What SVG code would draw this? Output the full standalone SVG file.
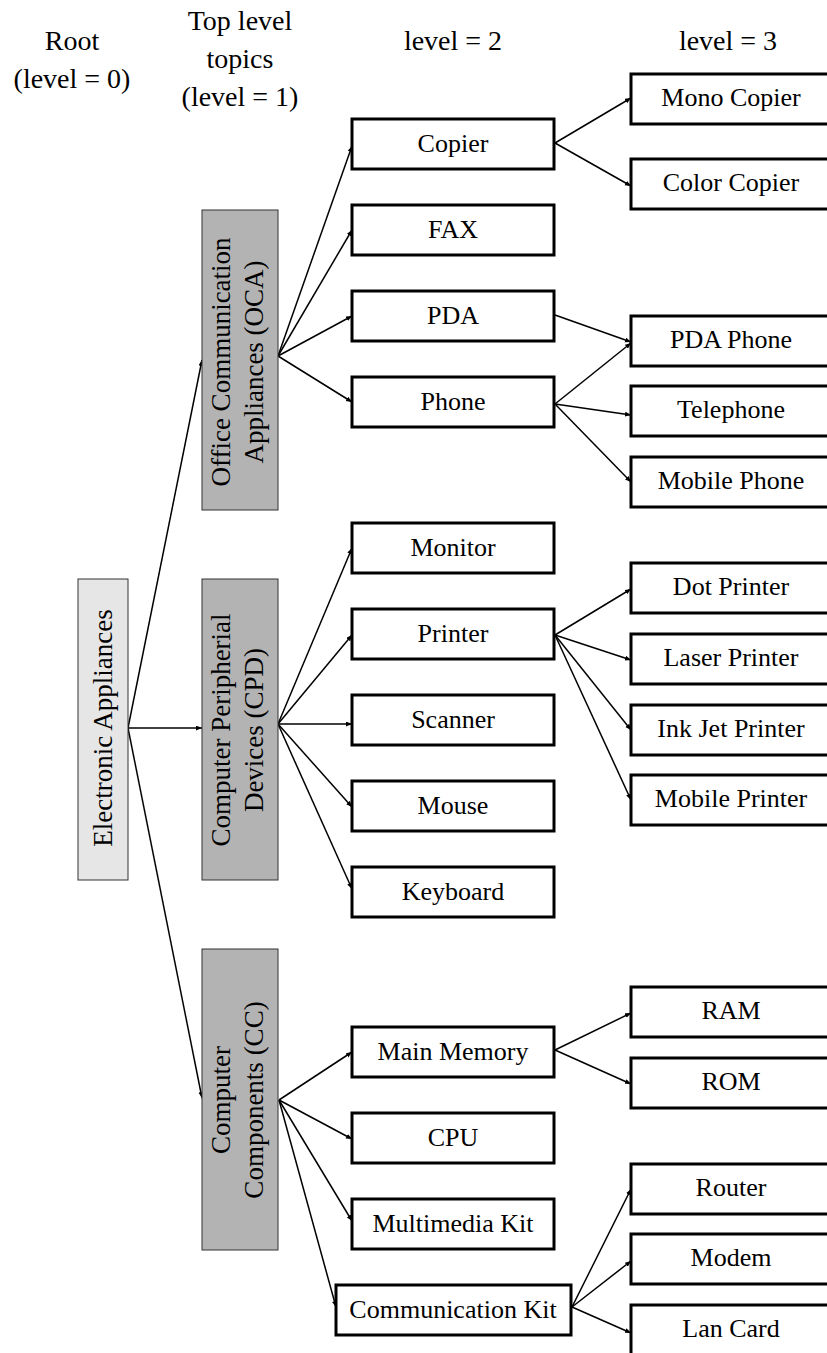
<svg xmlns="http://www.w3.org/2000/svg" width="827" height="1353" viewBox="0 0 827 1353">
<style>
text{font-family:"Liberation Serif","Times New Roman",serif;font-size:26px;fill:#000;text-anchor:middle}
.hdr{font-size:28px}
.box{fill:#fff;stroke:#000;stroke-width:3}
.top{fill:#b3b3b3;stroke:#333;stroke-width:1}
.root{fill:#e6e6e6;stroke:#333;stroke-width:1}
.vt{font-size:27px}
#connectors path{fill:none;stroke:#000;stroke-width:1.5;marker-end:url(#ah)}
</style>
<defs>
<marker id="ah" markerUnits="userSpaceOnUse" markerWidth="7" markerHeight="6" refX="6" refY="2.5" orient="auto">
<path d="M0,0 L6,2.5 L0,5 z" fill="#000"/>
</marker>
</defs>
<rect width="827" height="1353" fill="#fff"/>
<g id="headers">
<text class="hdr" x="72" y="50">Root</text>
<text class="hdr" x="72" y="88">(level = 0)</text>
<text class="hdr" x="240" y="30">Top level</text>
<text class="hdr" x="240" y="68">topics</text>
<text class="hdr" x="240" y="106">(level = 1)</text>
<text class="hdr" x="453" y="50">level = 2</text>
<text class="hdr" x="728" y="50">level = 3</text>
</g>
<g id="connectors">
<path d="M128,728 L202,360"/>
<path d="M128,728 L202,728"/>
<path d="M128,728 L202,1098"/>
<path d="M278,356 L352,146"/>
<path d="M278,356 L352,230"/>
<path d="M278,356 L352,316"/>
<path d="M278,356 L352,402"/>
<path d="M278,724 L352,548"/>
<path d="M278,724 L352,635"/>
<path d="M278,724 L352,724"/>
<path d="M278,724 L352,807"/>
<path d="M278,724 L352,889"/>
<path d="M279,1100 L352,1052"/>
<path d="M279,1100 L352,1139"/>
<path d="M279,1100 L352,1221"/>
<path d="M279,1100 L336,1307"/>
<path d="M555,143 L631,98"/>
<path d="M555,143 L631,186"/>
<path d="M555,315 L631,342"/>
<path d="M555,404 L631,343"/>
<path d="M555,404 L631,415"/>
<path d="M555,404 L631,482"/>
<path d="M555,635 L631,589"/>
<path d="M555,635 L631,660"/>
<path d="M555,635 L631,730"/>
<path d="M555,635 L631,800"/>
<path d="M555,1050 L631,1013"/>
<path d="M555,1050 L631,1084"/>
<path d="M572,1307 L631,1189"/>
<path d="M572,1307 L631,1261"/>
<path d="M572,1307 L631,1333"/>
</g>
<g id="root"><rect class="root" x="78" y="579" width="50" height="301"/><text class="vt" transform="translate(103,728) rotate(-90)" x="0" y="9">Electronic Appliances</text></g>
<g id="oca"><rect class="top" x="202" y="210" width="76" height="300"/><text class="vt" transform="translate(240,362) rotate(-90)"><tspan x="0" y="-10">Office Communication</tspan><tspan x="0" y="23">Appliances (OCA)</tspan></text></g>
<g id="cpd"><rect class="top" x="202" y="579" width="76" height="301"/><text class="vt" transform="translate(240,730) rotate(-90)"><tspan x="0" y="-10">Computer Peripherial</tspan><tspan x="0" y="23">Devices (CPD)</tspan></text></g>
<g id="cc"><rect class="top" x="202" y="949" width="76" height="301"/><text class="vt" transform="translate(240,1100) rotate(-90)"><tspan x="0" y="-10">Computer</tspan><tspan x="0" y="23">Components (CC)</tspan></text></g>
<g id="copier"><rect class="box" x="352" y="119" width="202" height="50"/><text x="453" y="152">Copier</text></g>
<g id="fax"><rect class="box" x="352" y="205" width="202" height="50"/><text x="453" y="238">FAX</text></g>
<g id="pda"><rect class="box" x="352" y="291" width="202" height="50"/><text x="453" y="324">PDA</text></g>
<g id="phone"><rect class="box" x="352" y="377" width="202" height="50"/><text x="453" y="410">Phone</text></g>
<g id="monitor"><rect class="box" x="352" y="523" width="202" height="50"/><text x="453" y="556">Monitor</text></g>
<g id="printer"><rect class="box" x="352" y="609" width="202" height="50"/><text x="453" y="642">Printer</text></g>
<g id="scanner"><rect class="box" x="352" y="695" width="202" height="50"/><text x="453" y="728">Scanner</text></g>
<g id="mouse"><rect class="box" x="352" y="781" width="202" height="50"/><text x="453" y="814">Mouse</text></g>
<g id="keyboard"><rect class="box" x="352" y="867" width="202" height="50"/><text x="453" y="900">Keyboard</text></g>
<g id="mainmemory"><rect class="box" x="352" y="1027" width="202" height="50"/><text x="453" y="1060">Main Memory</text></g>
<g id="cpu"><rect class="box" x="352" y="1113" width="202" height="50"/><text x="453" y="1146">CPU</text></g>
<g id="multimedia"><rect class="box" x="352" y="1199" width="202" height="50"/><text x="453" y="1232">Multimedia Kit</text></g>
<g id="commkit"><rect class="box" x="336" y="1285" width="235" height="50"/><text x="453" y="1318">Communication Kit</text></g>
<g id="monocopier"><rect class="box" x="631" y="74" width="200" height="50"/><text x="731" y="106">Mono Copier</text></g>
<g id="colorcopier"><rect class="box" x="631" y="159" width="200" height="50"/><text x="731" y="191">Color Copier</text></g>
<g id="pdaphone"><rect class="box" x="631" y="316" width="200" height="50"/><text x="731" y="348">PDA Phone</text></g>
<g id="telephone"><rect class="box" x="631" y="386" width="200" height="50"/><text x="731" y="418">Telephone</text></g>
<g id="mobilephone"><rect class="box" x="631" y="457" width="200" height="50"/><text x="731" y="489">Mobile Phone</text></g>
<g id="dotprinter"><rect class="box" x="631" y="563" width="200" height="50"/><text x="731" y="595">Dot Printer</text></g>
<g id="laserprinter"><rect class="box" x="631" y="634" width="200" height="50"/><text x="731" y="666">Laser Printer</text></g>
<g id="inkjetprinter"><rect class="box" x="631" y="705" width="200" height="50"/><text x="731" y="737">Ink Jet Printer</text></g>
<g id="mobileprinter"><rect class="box" x="631" y="775" width="200" height="50"/><text x="731" y="807">Mobile Printer</text></g>
<g id="ram"><rect class="box" x="631" y="987" width="200" height="50"/><text x="731" y="1019">RAM</text></g>
<g id="rom"><rect class="box" x="631" y="1058" width="200" height="50"/><text x="731" y="1090">ROM</text></g>
<g id="router"><rect class="box" x="631" y="1164" width="200" height="50"/><text x="731" y="1196">Router</text></g>
<g id="modem"><rect class="box" x="631" y="1234" width="200" height="50"/><text x="731" y="1266">Modem</text></g>
<g id="lancard"><rect class="box" x="631" y="1305" width="200" height="50"/><text x="731" y="1337">Lan Card</text></g>
</svg>
